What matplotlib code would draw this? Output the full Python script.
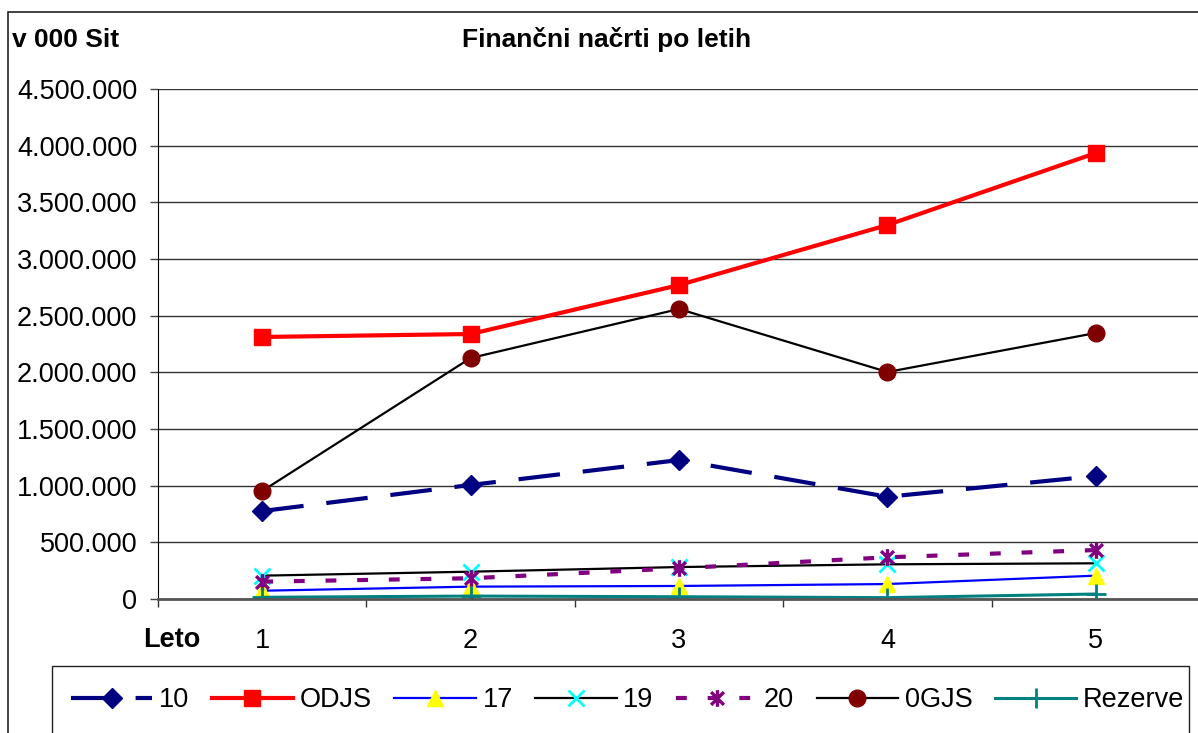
"""Financni nacrti po letih - line chart, Excel style."""
import matplotlib
matplotlib.use("Agg")
import matplotlib.pyplot as plt
from matplotlib.patches import Rectangle
from matplotlib.path import Path
from matplotlib.ticker import FuncFormatter, FixedLocator

plt.rcParams["font.family"] = ["Liberation Sans", "DejaVu Sans"]

W, H = 1198, 733

years = [1, 2, 3, 4, 5]
s10 = [776000, 1006000, 1226000, 902000, 1085000]
odjs = [2312000, 2338000, 2770000, 3300000, 3935000]
s17 = [73000, 109000, 115000, 132000, 206000]
s19 = [206000, 241000, 282000, 306000, 315000]
s20 = [153000, 183000, 271000, 368000, 432000]
ogjs = [953000, 2126000, 2559000, 2003000, 2347000]
rezerve = [15000, 26000, 20000, 12000, 44000]

yticks = [0, 500000, 1000000, 1500000, 2000000, 2500000, 3000000, 3500000, 4000000, 4500000]

FS = 19.5


def fx(px):
    return px / W


def fy(py):
    return 1 - py / H


# excel-style asterisk: an x with a vertical bar
ASTERISK = Path(
    [(-1, -1), (1, 1), (-1, 1), (1, -1), (0, -1.3), (0, 1.3)],
    [Path.MOVETO, Path.LINETO, Path.MOVETO, Path.LINETO, Path.MOVETO, Path.LINETO],
)

fig = plt.figure(figsize=(W / 100, H / 100), dpi=100, facecolor="white")

# chart border (runs off the right and bottom edge, as in the crop)
fig.patches.append(Rectangle((fx(8), fy(760)), fx(1230) - fx(8), fy(12) - fy(760),
                             transform=fig.transFigure, fill=False,
                             edgecolor="#222222", lw=1.2))

ax = fig.add_axes([fx(158), fy(599), fx(1200) - fx(158), fy(89) - fy(599)])

ax.plot(years, s10, color="#000080", lw=3, dashes=(10, 5.5), marker="D",
        ms=10, mfc="#000080", mec="#000080", label="10")
ax.plot(years, odjs, color="#FF0000", lw=3, marker="s", ms=11,
        mfc="#FF0000", mec="#FF0000", label="ODJS")
ax.plot(years, s17, color="#0000FF", lw=1.6, marker="^", ms=12,
        mfc="#FFFF00", mec="#FFFF00", label="17")
ax.plot(years, s19, color="black", lw=1.6, marker="x", ms=12, mew=2,
        mec="#00FFFF", label="19")
ax.plot(years, s20, color="#800080", lw=3, dashes=(2.6, 5), marker=ASTERISK,
        ms=12, mew=2.4, mec="#800080", label="20")
ax.plot(years, ogjs, color="black", lw=1.6, marker="o", ms=12,
        mfc="#800000", mec="#800000", label="0GJS")
ax.plot(years, rezerve, color="#008080", lw=2.2, marker="+", ms=15, mew=2,
        mec="#008080", label="Rezerve")

ax.set_xlim(0.5, 5.5)
ax.set_ylim(0, 4500000)
ax.set_yticks(yticks)
ax.yaxis.set_major_formatter(FuncFormatter(lambda v, p: f"{int(v):,}".replace(",", ".")))
ax.grid(axis="y", color="#333333", lw=1)
ax.set_axisbelow(True)

ax.set_xticks(years)
ax.xaxis.set_minor_locator(FixedLocator([0.5, 1.5, 2.5, 3.5, 4.5, 5.5]))
ax.tick_params(axis="x", which="major", length=0, pad=21, labelsize=FS)
ax.tick_params(axis="x", which="minor", length=6, width=1, direction="out", color="#333333")
ax.tick_params(axis="y", length=6, width=1, direction="out", labelsize=FS, pad=9,
               color="#444444")

for side in ("top", "right"):
    ax.spines[side].set_visible(False)
ax.spines["left"].set_color("black")
ax.spines["bottom"].set_color("#555555")
ax.spines["bottom"].set_linewidth(2)

fig.text(fx(12), fy(40), "v 000 Sit", fontsize=19, fontweight="bold", va="center", ha="left")
fig.text(fx(607), fy(40), "Finančni načrti po letih", fontsize=19, fontweight="bold",
         va="center", ha="center")
fig.text(fx(172), fy(640), "Leto", fontsize=FS, fontweight="bold", va="center", ha="center")

# legend box (also runs off the bottom)
fig.patches.append(Rectangle((fx(52), fy(760)), fx(1189) - fx(52), fy(666) - fy(760),
                             transform=fig.transFigure, fill=False,
                             edgecolor="#222222", lw=1))
fig.legend(loc="center left", bbox_to_anchor=(fx(71), fy(700)), ncol=7, frameon=False,
           fontsize=FS, handlelength=3.0, handletextpad=0.25, columnspacing=0.83,
           borderaxespad=0, borderpad=0)

fig.savefig("out.png", dpi=100, facecolor="white")
